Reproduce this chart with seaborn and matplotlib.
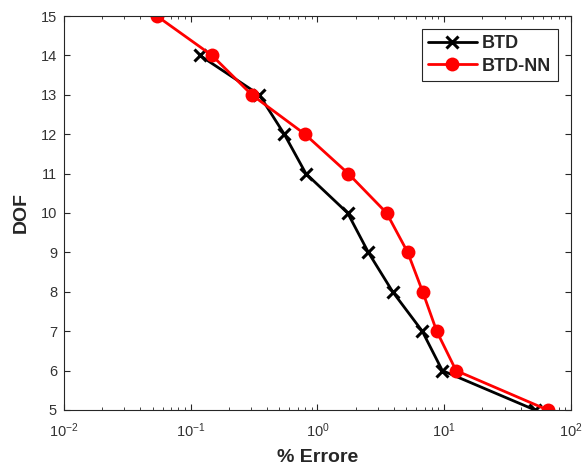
import numpy as np
import pandas as pd
import matplotlib
matplotlib.use("Agg")
import matplotlib.pyplot as plt
import seaborn as sns
from matplotlib.ticker import LogLocator, NullFormatter, FixedLocator

# Error (%) versus degrees of freedom for the two methods
dof_btd = [14, 13, 12, 11, 10, 9, 8, 7, 6, 5]
err_btd = [0.118, 0.347, 0.547, 0.81, 1.73, 2.52, 3.92, 6.71, 9.66, 52.0]

dof_nn = [15, 14, 13, 12, 11, 10, 9, 8, 7, 6, 5]
err_nn = [0.054, 0.147, 0.303, 0.796, 1.75, 3.51, 5.15, 6.76, 8.72, 12.4, 65.5]

y_ticks = list(range(5, 16))
x_ticks = [1e-2, 1e-1, 1e0, 1e1, 1e2]

sns.set_theme(style="ticks")
plt.rcParams["font.family"] = ["Liberation Sans", "DejaVu Sans"]
plt.rcParams["mathtext.fontset"] = "custom"
plt.rcParams["mathtext.rm"] = "Liberation Sans"
plt.rcParams["mathtext.it"] = "Liberation Sans:italic"
plt.rcParams["mathtext.bf"] = "Liberation Sans:bold"
axcol = "#262626"
ticklab = "#333333"

df_btd = pd.DataFrame({"err": err_btd, "dof": dof_btd})
df_nn = pd.DataFrame({"err": err_nn, "dof": dof_nn})

fig = plt.figure(figsize=(5.84, 4.72), dpi=100)
ax = fig.add_axes([0.1096, 0.1314, 0.8681, 0.8347])

sns.lineplot(data=df_btd, x="err", y="dof", sort=False, ax=ax, color="black",
             lw=2, marker="x", markersize=8, markeredgewidth=2.2,
             markeredgecolor="black", label="BTD")
sns.lineplot(data=df_nn, x="err", y="dof", sort=False, ax=ax, color="#ff0000",
             lw=2, marker="o", markersize=10, markeredgewidth=0,
             markerfacecolor="#ff0000", label="BTD-NN")

ax.set_xscale("log")
ax.set_xlim(1e-2, 1e2)
ax.set_ylim(5, 15)
ax.xaxis.set_major_locator(FixedLocator(x_ticks))
ax.xaxis.set_minor_locator(LogLocator(base=10, subs=np.arange(2, 10), numticks=20))
ax.xaxis.set_minor_formatter(NullFormatter())
ax.set_yticks(y_ticks)

for s in ax.spines.values():
    s.set_visible(True)
    s.set_color(axcol)
    s.set_linewidth(0.8)

ax.tick_params(which="both", direction="in", top=True, right=True,
               colors=axcol, labelcolor=ticklab, labelsize=10.5)
ax.tick_params(which="major", length=4, width=0.8)
ax.tick_params(which="minor", length=2, width=0.6)
ax.tick_params(axis="x", which="major", pad=8)
ax.tick_params(axis="y", which="major", pad=5)

ax.set_xlabel("% Errore", fontsize=14, fontweight="bold", color=axcol, labelpad=7)
ax.set_ylabel("DOF", fontsize=14, fontweight="bold", color=axcol, labelpad=8)

leg = ax.legend(loc="upper right", bbox_to_anchor=(0.974, 0.967),
                borderaxespad=0, frameon=True, fancybox=False, framealpha=1,
                edgecolor=axcol, prop={"weight": "bold", "size": 13},
                handlelength=2.7, borderpad=0.35, labelspacing=0.3,
                handletextpad=0.3)
leg.get_frame().set_linewidth(0.8)

fig.savefig("out.png", dpi=100)
